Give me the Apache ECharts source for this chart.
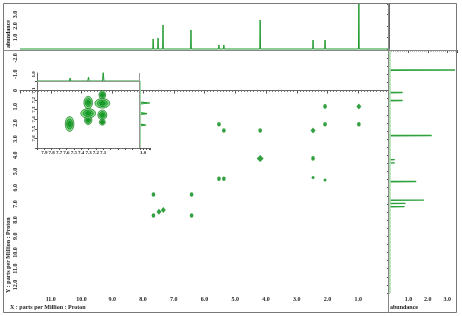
<!DOCTYPE html>
<html><head><meta charset="utf-8">
<script src="https://cdn.jsdelivr.net/npm/echarts@6/dist/echarts.min.js"></script>
<style>html,body{margin:0;padding:0;background:#fff}#c{width:462px;height:316px}</style>
</head><body><div id="c"></div>
<script>
// ---------- data (ppm / abundance) ----------
const topPeakPpm   = [7.67, 7.51, 7.35, 6.44, 5.53, 5.37, 4.19, 2.47, 2.08, 0.98];
const topPeakAbund = [0.87, 0.95, 2.08, 1.65, 0.35, 0.35, 2.51, 0.78, 0.78, 3.9];
const sidePeakPpm   = [7.67, 7.51, 7.35, 6.44, 5.53, 5.37, 4.19, 2.47, 2.08, 0.98];
const sidePeakAbund = [0.8, 0.85, 1.8, 1.4, 0.3, 0.3, 2.2, 0.7, 0.7, 3.4];
const crossX = [0.98, 0.98, 2.08, 2.08, 5.53, 5.37, 4.19, 2.47, 4.19, 2.47, 2.47, 2.08, 5.53, 5.37, 7.66, 6.42, 7.66, 7.48, 7.34, 6.42];
const crossY = [0.98, 2.08, 0.98, 2.08, 2.08, 2.47, 2.47, 2.47, 4.19, 4.19, 5.37, 5.53, 5.45, 5.45, 6.42, 6.42, 7.72, 7.49, 7.38, 7.72];
const crossLevel = [3, 2, 2, 2, 2, 2, 2, 3, 4, 2, 1, 1, 2, 2, 2, 2, 2, 3, 3, 2];
// inset (expanded aromatic region)
const insetTopPpm = [7.55, 7.30, 7.10];
const insetTopAbund = [0.45, 0.6, 1.3];
const insetSidePpm = [7.23, 7.34, 7.46];
const insetSideAbund = [3.3, 2.3, 2.0];
const insetBlobX  = [7.557, 7.304, 7.304, 7.112, 7.112, 7.112, 7.304, 7.112];
const insetBlobY  = [7.449, 7.225, 7.410, 7.146, 7.355, 7.430, 7.338, 7.233];
const insetBlobWX = [0.058, 0.058, 0.05, 0.045, 0.06, 0.04, 0.1, 0.1];
const insetBlobWY = [0.078, 0.065, 0.045, 0.045, 0.052, 0.031, 0.05, 0.05];
const axisTitleX = 'X : parts per Million : Proton';
const axisTitleY = 'Y : parts per Million : Proton';
const abundTitle = 'abundance';

// ---------- helpers ----------
function spectrum(ppms, hs, half, lo, hi, swap) {
  const idx = ppms.map((p, i) => i).sort((a, b) => ppms[a] - ppms[b]);
  const pts = [[lo, 0]];
  idx.forEach(i => { pts.push([ppms[i] - half, 0], [ppms[i], hs[i]], [ppms[i] + half, 0]); });
  pts.push([hi, 0]);
  return swap ? pts.map(p => [p[1], p[0]]) : pts;
}
const FONT = '"Liberation Serif", "DejaVu Serif", serif';
const lab = (size) => ({ fontFamily: FONT, fontSize: size, fontWeight: 'bold', color: '#222' });
const aLine = { show: true, lineStyle: { color: '#666', width: 1 } };
function ellipsePts(cx, cy, rx, ry) {
  const pts = [];
  for (let k = 0; k < 28; k++) { const a = k / 28 * 2 * Math.PI; pts.push([cx + rx * Math.cos(a), cy + ry * Math.sin(a)]); }
  return pts;
}

const chart = echarts.init(document.getElementById('c'), null, { renderer: 'canvas' });
const G = (o) => Object.assign({ containLabel: false, outerBoundsMode: 'none' }, o);

const option = {
  animation: false,
  backgroundColor: '#fff',
  grid: [
    G({ left: 20, top: 4, width: 369, height: 45 }),      // top projection
    G({ left: 20, top: 50, width: 369, height: 243 }),    // main
    G({ left: 389, top: 50, width: 68, height: 243 }),    // side projection
    G({ left: 37, top: 81, width: 103, height: 67 }),     // inset main
    G({ left: 37, top: 73, width: 103, height: 8 }),      // inset top
    G({ left: 140, top: 81, width: 10, height: 67 })      // inset side
  ],
  xAxis: [
    { gridIndex: 0, type: 'value', min: 0, max: 12, inverse: true, show: false },
    { gridIndex: 1, type: 'value', min: 0, max: 12, inverse: true, interval: 1, position: 'bottom',
      axisLine: aLine, splitLine: { show: false },
      axisTick: { show: true, length: 3, lineStyle: { color: '#555' } },
      minorTick: { show: true, splitNumber: 10, length: 1.5, lineStyle: { color: '#777' } },
      axisLabel: Object.assign(lab(6), { margin: 3, formatter: v => (v >= 1 && v <= 11) ? v.toFixed(1) : '' }) },
    { gridIndex: 2, type: 'value', min: 0, max: 3.5, interval: 1, position: 'bottom',
      axisLine: aLine, splitLine: { show: false },
      axisTick: { show: true, length: 3, lineStyle: { color: '#555' } },
      minorTick: { show: true, splitNumber: 10, length: 1.5, lineStyle: { color: '#777' } },
      axisLabel: Object.assign(lab(6), { margin: 3, formatter: v => (v >= 1 && v <= 3 && Number.isInteger(v)) ? v.toFixed(1) : '' }) },
    { gridIndex: 3, type: 'value', min: 6.6, max: 8.0, interval: 0.1, inverse: true, position: 'bottom',
      axisLine: aLine, splitLine: { show: false },
      axisTick: { show: true, length: 2, lineStyle: { color: '#555' } },
      minorTick: { show: true, splitNumber: 4, length: 1, lineStyle: { color: '#777' } },
      axisLabel: Object.assign(lab(5), { margin: 2, formatter: v => (v > 7.05 && v < 7.95) ? v.toFixed(1) : '' }) },
    { gridIndex: 4, type: 'value', min: 6.6, max: 8.0, inverse: true, show: false },
    { gridIndex: 5, type: 'value', min: 0, max: 3.3, interval: 1, position: 'bottom',
      axisLine: aLine, splitLine: { show: false },
      axisTick: { show: true, length: 2, lineStyle: { color: '#555' } },
      axisLabel: Object.assign(lab(5), { margin: 2, formatter: v => (v === 1) ? '1.0' : '' }) }
  ],
  yAxis: [
    { gridIndex: 0, type: 'value', min: 0, max: 3.9, interval: 1, axisLine: aLine, splitLine: { show: false },
      axisTick: { show: true, length: 2, lineStyle: { color: '#555' } },
      minorTick: { show: true, splitNumber: 5, length: 1, lineStyle: { color: '#777' } },
      axisLabel: Object.assign(lab(6), { rotate: 90, margin: 2, formatter: v => (v >= 1 && v <= 3 && Number.isInteger(v)) ? v.toFixed(1) : '' }) },
    { gridIndex: 1, type: 'value', min: -2.5, max: 12.5, interval: 0.5, inverse: true, axisLine: aLine, splitLine: { show: false },
      axisTick: { show: true, length: 2, lineStyle: { color: '#555' } },
      minorTick: { show: true, splitNumber: 5, length: 1, lineStyle: { color: '#888' } },
      axisLabel: Object.assign(lab(6), { rotate: 90, margin: 2,
        formatter: v => Number.isInteger(v) ? (v === 0 ? '0' : v.toFixed(1)) : '' }) },
    { gridIndex: 2, type: 'value', min: 0, max: 11.9, inverse: true, show: false },
    { gridIndex: 3, type: 'value', min: 7.0, max: 7.7, interval: 0.1, inverse: true, axisLine: aLine, splitLine: { show: false },
      axisTick: { show: true, length: 2, lineStyle: { color: '#555' } },
      axisLabel: Object.assign(lab(5), { rotate: 90, margin: 1, formatter: v => (v > 7.05 && v < 7.65) ? v.toFixed(1) : '' }) },
    { gridIndex: 4, type: 'value', min: 0, max: 1.2, interval: 1, axisLine: aLine, splitLine: { show: false },
      axisTick: { show: false },
      axisLabel: Object.assign(lab(5), { rotate: 90, margin: 1, formatter: v => (v === 1) ? '1.0' : '' }) },
    { gridIndex: 5, type: 'value', min: 7.0, max: 7.7, inverse: true, show: false }
  ],
  series: [
    { type: 'line', xAxisIndex: 0, yAxisIndex: 0, showSymbol: false, clip: false,
      data: spectrum(topPeakPpm, topPeakAbund, 0.012, 0, 12, false),
      lineStyle: { color: '#1f9a2e', width: 1 } },
    { type: 'line', xAxisIndex: 2, yAxisIndex: 2, showSymbol: false,
      data: spectrum(sidePeakPpm, sidePeakAbund, 0.012, 0, 11.9, true),
      lineStyle: { color: '#2da23c', width: 1.4 },
      markLine: { silent: true, symbol: 'none', label: { show: false },
        lineStyle: { color: '#aedcae', width: 2.5, type: 'solid' }, data: [{ xAxis: 0 }] } },
    { type: 'scatter', xAxisIndex: 1, yAxisIndex: 1,
      data: crossX.map((x, i) => ({
        value: [x, crossY[i]],
        symbol: crossLevel[i] >= 3 ? 'diamond' : 'circle',
        symbolSize: crossLevel[i] === 4 ? 7 : crossLevel[i] === 3 ? [5, 6] : crossLevel[i] === 2 ? [3.6, 4.6] : [3, 3]
      })),
      itemStyle: { color: '#008a12' } },
    { type: 'line', xAxisIndex: 4, yAxisIndex: 4, showSymbol: false,
      data: spectrum(insetTopPpm, insetTopAbund, 0.01, 6.6, 8.0, false),
      lineStyle: { color: '#1f9a2e', width: 1 } },
    { type: 'line', xAxisIndex: 5, yAxisIndex: 5, showSymbol: false,
      data: spectrum(insetSidePpm, insetSideAbund, 0.01, 7.0, 7.7, true),
      lineStyle: { color: '#1f9a2e', width: 1.2 },
      markLine: { silent: true, symbol: 'none', label: { show: false },
        lineStyle: { color: '#aedcae', width: 1.5, type: 'solid' }, data: [{ xAxis: 0 }] } },
    { type: 'custom', xAxisIndex: 3, yAxisIndex: 3,
      data: insetBlobX.map((x, i) => [x, insetBlobY[i], insetBlobWX[i], insetBlobWY[i]]),
      renderItem: (params, api) => {
        const c = api.coord([api.value(0), api.value(1)]);
        const s = api.size([api.value(2), api.value(3)]);
        const rx = Math.abs(s[0]), ry = Math.abs(s[1]);
        const rings = [1, 0.68, 0.36];
        const fills = ['#8fdc8f', '#45c055', '#18a02a'];
        return { type: 'group', children: rings.map((f, k) => ({
          type: 'polygon', shape: { points: ellipsePts(c[0], c[1], rx * f, ry * f) },
          style: { fill: fills[k], stroke: '#0c7a1a', lineWidth: 0.7 } })) };
      } }
  ],
  graphic: [
    { type: 'rect', z: 50, shape: { x: 3.5, y: 3.5, width: 453, height: 309 }, style: { fill: 'none', stroke: '#777', lineWidth: 1 } },
    { type: 'line', z: 50, shape: { x1: 3, y1: 50.5, x2: 457, y2: 50.5 }, style: { stroke: '#888', lineWidth: 1 } },
    { type: 'line', z: 50, shape: { x1: 388.5, y1: 3, x2: 388.5, y2: 313 }, style: { stroke: '#888', lineWidth: 1 } },
    { type: 'line', z: 50, shape: { x1: 37, y1: 81.5, x2: 140, y2: 81.5 }, style: { stroke: '#999', lineWidth: 1 } },
    { type: 'line', z: 50, shape: { x1: 139.5, y1: 73, x2: 139.5, y2: 148 }, style: { stroke: '#999', lineWidth: 1 } },
    { type: 'text', z: 60, x: 8, y: 48, rotation: Math.PI / 2,
      style: { text: abundTitle, font: 'bold 6px ' + FONT, fill: '#222', textAlign: 'left', textVerticalAlign: 'middle', align: 'left', verticalAlign: 'middle' } },
    { type: 'text', z: 60, x: 8, y: 293, rotation: Math.PI / 2,
      style: { text: axisTitleY, font: 'bold 6px ' + FONT, fill: '#222', textAlign: 'left', textVerticalAlign: 'middle', align: 'left', verticalAlign: 'middle' } },
    { type: 'text', z: 60, x: 10, y: 307,
      style: { text: axisTitleX, font: 'bold 6px ' + FONT, fill: '#222', textAlign: 'left', textVerticalAlign: 'middle', align: 'left', verticalAlign: 'middle' } },
    { type: 'text', z: 60, x: 390, y: 307,
      style: { text: abundTitle, font: 'bold 6px ' + FONT, fill: '#222', textAlign: 'left', textVerticalAlign: 'middle', align: 'left', verticalAlign: 'middle' } }
  ]
};
chart.setOption(option);
</script>
</body></html>
